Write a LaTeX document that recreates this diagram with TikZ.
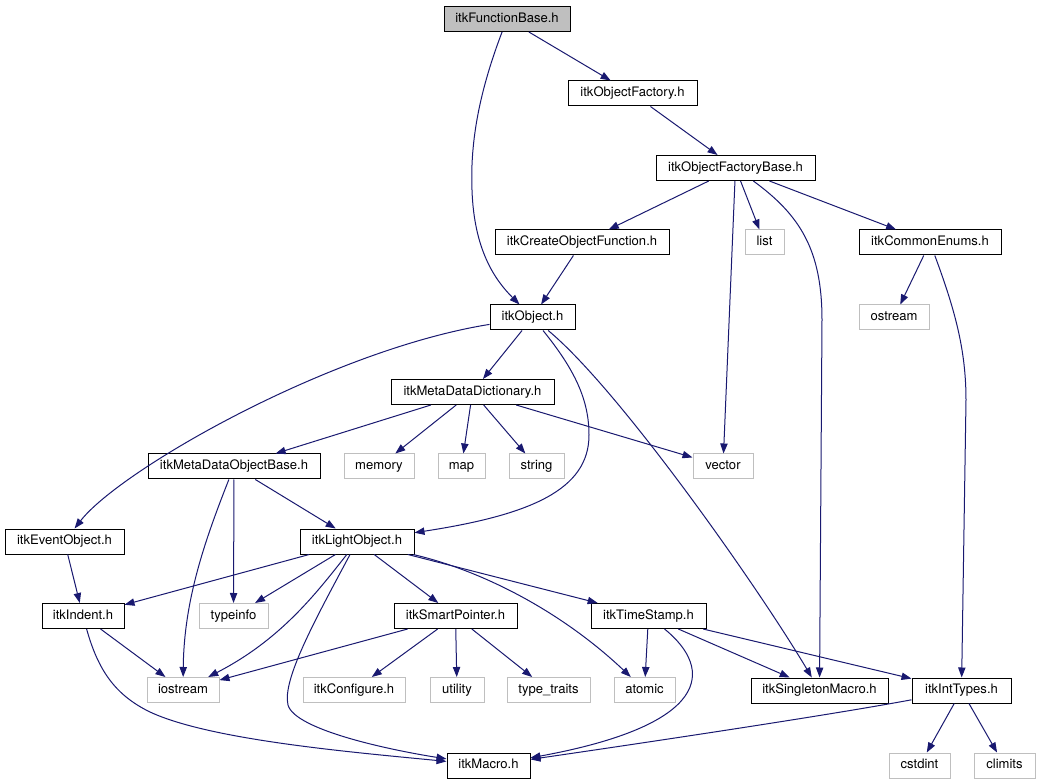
\documentclass[tikz,border=0pt]{standalone}
\usepackage{fontspec}
\setsansfont{TeX Gyre Heros}
\usetikzlibrary{arrows.meta}
\definecolor{edgeblue}{HTML}{191970}
\definecolor{sysgray}{HTML}{BFBFBF}

\begin{document}
\begin{tikzpicture}[
  x=0.75pt, y=-0.75pt,
  hdr/.style={draw=black, line width=0.75pt, fill=white, minimum height=18.75pt, inner xsep=3pt, inner ysep=0pt, text height=7.2pt, text depth=2.2pt, font=\sffamily\fontsize{9.8}{11}\selectfont},
  sys/.style={hdr, draw=sysgray},
  w/.style={minimum width=#1*0.75pt},
  edge/.style={-{Triangle[length=7.5pt,width=5.5pt]}, color=edgeblue, line width=0.75pt}
]
\useasboundingbox (0,0) rectangle (1040,784);
\fill[white] (0,0) rectangle (1040,784);

% headers, row by row
\node[hdr, w=126, fill=sysgray] (fb) at (507,19) {itkFunctionBase.h};
\node[hdr, w=129] (of) at (632.5,93.5) {itkObjectFactory.h};
\node[hdr, w=159] (ofb) at (735.5,168) {itkObjectFactoryBase.h};
\node[hdr, w=174] (cof) at (582,242.5) {itkCreateObjectFunction.h};
\node[sys, w=39] (lst) at (764.5,242.5) {list};
\node[hdr, w=142] (ce) at (930,242.5) {itkCommonEnums.h};
\node[sys, w=70] (ostr) at (894,317.5) {ostream};
\node[hdr, w=85] (obj) at (532.5,317.5) {itkObject.h};
\node[hdr, w=163] (mdd) at (472.5,392) {itkMetaDataDictionary.h};
\node[sys, w=70] (mem) at (379,466.5) {memory};
\node[sys, w=47] (nmap) at (461.5,466.5) {map};
\node[sys, w=55] (str) at (536.5,466.5) {string};
\node[sys, w=60] (vec) at (723,466.5) {vector};
\node[hdr, w=172] (mdob) at (234,466.5) {itkMetaDataObjectBase.h};
\node[hdr, w=119] (eo) at (64.5,541.5) {itkEventObject.h};
\node[hdr, w=114] (lo) at (357,541.5) {itkLightObject.h};
\node[hdr, w=82] (ind) at (83,616) {itkIndent.h};
\node[sys, w=69] (tinfo) at (233.5,616) {typeinfo};
\node[hdr, w=123] (sp) at (455.5,616) {itkSmartPointer.h};
\node[hdr, w=115] (ts) at (648.5,616) {itkTimeStamp.h};
\node[sys, w=72] (ios) at (183,690) {iostream};
\node[sys, w=102] (cfg) at (354,690) {itkConfigure.h};
\node[sys, w=54] (util) at (457,690) {utility};
\node[sys, w=83] (tt) at (548.5,690) {type\_traits};
\node[sys, w=61] (atom) at (644.5,690) {atomic};
\node[hdr, w=137] (sing) at (819.5,690.5) {itkSingletonMacro.h};
\node[hdr, w=99] (ityp) at (961.5,690.5) {itkIntTypes.h};
\node[hdr, w=83] (mac) at (488.5,765.5) {itkMacro.h};
\node[sys, w=61] (cstd) at (919.5,765.5) {cstdint};
\node[sys, w=61] (clim) at (1004.5,765.5) {climits};

% includes
\draw[edge] (fb) -- (of);
\draw[edge] (fb) .. controls (480,90) and (470,140) .. (472,190) .. controls (474,250) and (495,280) .. (obj);
\draw[edge] (of) -- (ofb);
\draw[edge] (ofb) -- (cof);
\draw[edge] (ofb) -- (lst);
\draw[edge] (ofb) -- (ce);
\draw[edge] (ofb) -- (vec);
\draw[edge] (ofb) .. controls (800,215) and (822,250) .. (822,320) -- (sing);
\draw[edge] (cof) -- (obj);
\draw[edge] (ce) -- (ostr);
\draw[edge] (ce) .. controls (955,310) and (966,350) .. (966,400) -- (ityp);
\draw[edge] (obj) -- (mdd);
\draw[edge] (obj) .. controls (330,350) and (120,470) .. (eo);
\draw[edge] (obj) .. controls (575,370) and (589,400) .. (589,435) .. controls (589,490) and (530,515) .. (lo);
\draw[edge] (obj) .. controls (620,390) and (760,590) .. (sing);
\draw[edge] (mdd) -- (mdob);
\draw[edge] (mdd) -- (mem);
\draw[edge] (mdd) -- (nmap);
\draw[edge] (mdd) -- (str);
\draw[edge] (mdd) -- (vec);
\draw[edge] (mdob) -- (tinfo);
\draw[edge] (mdob) .. controls (205,540) and (184,600) .. (ios);
\draw[edge] (mdob) -- (lo);
\draw[edge] (eo) -- (ind);
\draw[edge] (lo) -- (ind);
\draw[edge] (lo) -- (tinfo);
\draw[edge] (lo) .. controls (315,595) and (280,640) .. (ios);
\draw[edge] (lo) .. controls (315,620) and (282,680) .. (288,705) .. controls (295,730) and (390,750) .. (mac);
\draw[edge] (lo) -- (sp);
\draw[edge] (lo) -- (ts);
\draw[edge] (lo) .. controls (480,570) and (560,610) .. (atom);
\draw[edge] (ind) -- (ios);
\draw[edge] (ind) .. controls (98,670) and (115,695) .. (150,712) .. controls (210,740) and (350,752) .. (mac);
\draw[edge] (sp) -- (ios);
\draw[edge] (sp) -- (cfg);
\draw[edge] (sp) -- (util);
\draw[edge] (sp) -- (tt);
\draw[edge] (ts) -- (atom);
\draw[edge] (ts) -- (sing);
\draw[edge] (ts) -- (ityp);
\draw[edge] (ts) .. controls (715,670) and (710,725) .. (mac);
\draw[edge] (ityp) .. controls (830,715) and (650,742) .. (mac);
\draw[edge] (ityp) -- (cstd);
\draw[edge] (ityp) -- (clim);
\end{tikzpicture}
\end{document}
